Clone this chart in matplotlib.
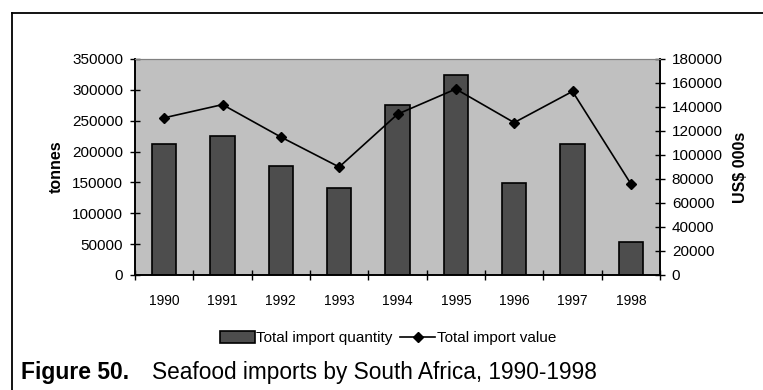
import numpy as np
import matplotlib
matplotlib.use("Agg")
import matplotlib.pyplot as plt
from matplotlib.lines import Line2D

plt.rcParams['font.family'] = ['Liberation Sans', 'DejaVu Sans']

# data
years = ['1990', '1991', '1992', '1993', '1994', '1995', '1996', '1997', '1998']
quantity = [212000, 226000, 177000, 141000, 276000, 324000, 149000, 213000, 53000]   # tonnes
value = [131000, 142000, 115000, 90000, 134000, 155000, 127000, 153000, 76000]       # US$ 000s

W, H = 763, 390
fig = plt.figure(figsize=(W / 100, H / 100), dpi=100)

# plot area in pixels
x0, x1, ytop, ybot = 135, 660, 59, 275
ax = fig.add_axes([x0 / W, (H - ybot) / H, (x1 - x0) / W, (ybot - ytop) / H])
ax2 = ax.twinx()

x = np.arange(len(years))
ax.set_facecolor('#c0c0c0')
bars = ax.bar(x, quantity, width=0.42, color='#4d4d4d', edgecolor='black', linewidth=1.2,
              label='Total import quantity', zorder=2)
line, = ax2.plot(x, value, color='black', lw=1.2, marker='D', ms=5.5,
                 label='Total import value', zorder=3)

ax.set_xlim(-0.5, len(years) - 0.5)
ax.set_ylim(0, 350000)
ax.set_yticks(np.arange(0, 350001, 50000))
ax2.set_ylim(0, 180000)
ax2.set_yticks(np.arange(0, 180001, 20000))

ax.set_xticks(x)
ax.set_xticklabels(years, fontsize=10)
ax.set_xticks(np.arange(-0.5, len(years), 1), minor=True)
ax.tick_params(axis='x', which='major', length=0, pad=14)
ax.tick_params(axis='x', which='minor', length=7, direction='inout', width=1)
ax.tick_params(axis='y', length=7, direction='inout', width=1, labelsize=11, pad=5)
ax2.tick_params(axis='y', length=7, direction='inout', width=1, labelsize=11, pad=5)

for a in (ax, ax2):
    a.spines['top'].set_color('#808080')
    a.spines['left'].set_linewidth(1.2)
    a.spines['right'].set_linewidth(1.2)
    a.spines['bottom'].set_linewidth(1.2)

ax.set_ylabel('tonnes', fontsize=11.5, fontweight='bold', labelpad=6)
ax2.set_ylabel('US$ 000s', fontsize=11.5, fontweight='bold', labelpad=7)

fig.legend(handles=[bars, line], loc='center', bbox_to_anchor=(388 / W, 1 - 338 / H),
           ncol=2, frameon=False, fontsize=11, handlelength=2.3, handleheight=0.9,
           handletextpad=0.1, columnspacing=0.5, borderaxespad=0)

# caption
fig.text(21 / W, 1 - 373 / H, 'Figure 50.', fontsize=16.5, fontweight='bold', va='center')
fig.text(152 / W, 1 - 373 / H, 'Seafood imports by South Africa, 1990-1998',
         fontsize=16.3, va='center')

# frame round the figure
fig.add_artist(Line2D([12 / W, 1], [1 - 13 / H, 1 - 13 / H], color='black', lw=1.3))
fig.add_artist(Line2D([12 / W, 12 / W], [0, 1 - 13 / H], color='black', lw=1.3))

fig.savefig('out.png', dpi=100, facecolor='white')
